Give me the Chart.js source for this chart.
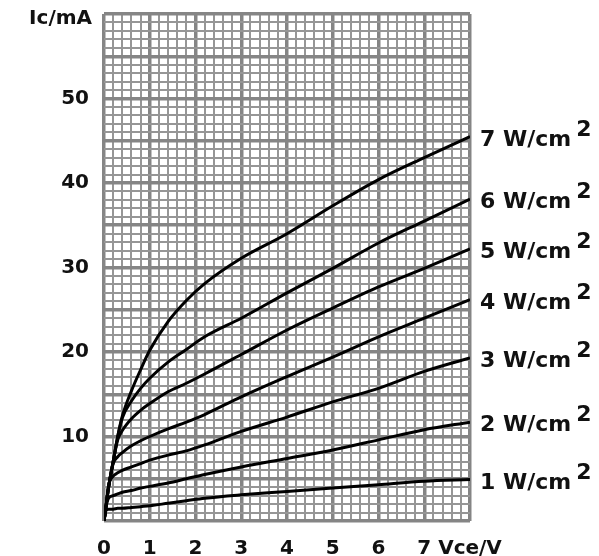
<!DOCTYPE html>
<html>
<head>
<meta charset="utf-8">
<script src="https://cdn.jsdelivr.net/npm/chart.js@4/dist/chart.umd.min.js"></script>
<style>
html,body{margin:0;padding:0;background:#fff;}
#wrap{width:599px;height:556px;}
</style>
</head>
<body>
<div id="wrap"><canvas id="c" width="599" height="556"></canvas></div>
<script>
// Vce values (V) shared by all curves
const vce = [0, 0.05, 0.1, 0.2, 0.3, 0.4, 0.6, 0.8, 1, 1.4, 1.8, 2.2, 3, 4, 5, 6, 7, 8];
// Ic values (mA) for each irradiance
const ic1 = [0, 1.3, 1.4, 1.4, 1.5, 1.5, 1.6, 1.7, 1.8, 2.1, 2.4, 2.7, 3.1, 3.5, 3.9, 4.3, 4.7, 4.9];
const ic2 = [0, 1.8, 2.7, 3.0, 3.2, 3.4, 3.6, 3.9, 4.1, 4.5, 5.0, 5.5, 6.4, 7.4, 8.4, 9.6, 10.8, 11.7];
const ic3 = [0, 2, 4.2, 5.3, 5.7, 6.0, 6.4, 6.8, 7.2, 7.8, 8.3, 9.0, 10.6, 12.3, 14.1, 15.7, 17.7, 19.3];
const ic4 = [0, 2, 4, 6.8, 7.6, 8.1, 8.9, 9.5, 10.0, 10.9, 11.7, 12.6, 14.7, 17.1, 19.4, 21.8, 24.0, 26.2];
const ic5 = [0, 2, 4, 7, 9.6, 10.7, 12.1, 13.1, 13.9, 15.3, 16.3, 17.4, 19.7, 22.6, 25.2, 27.7, 29.9, 32.2];
const ic6 = [0, 2, 4, 7, 10, 12.2, 14.2, 15.7, 16.9, 18.8, 20.3, 21.8, 24.0, 27.0, 29.9, 32.9, 35.5, 38.1];
const ic7 = [0, 2, 4, 7, 10, 12.4, 15.4, 17.9, 20.2, 23.6, 26.1, 28.1, 31.1, 34.0, 37.3, 40.4, 43.0, 45.5];
const seriesLabels = ['1 W/cm', '2 W/cm', '3 W/cm', '4 W/cm', '5 W/cm', '6 W/cm', '7 W/cm'];
const superscript = '2';
const xTickLabels = ['0', '1', '2', '3', '4', '5', '6', '7', 'Vce/V'];
const yTickLabels = {10: '10', 20: '20', 30: '30', 40: '40', 50: '50'};
const yAxisLabel = 'Ic/mA';

const allIc = [ic1, ic2, ic3, ic4, ic5, ic6, ic7];
const FONT = 'bold 20px "DejaVu Sans"';
const isInt = v => Math.abs(v - Math.round(v)) < 1e-6;
const isMul5 = v => isInt(v) && Math.round(v) % 5 === 0;

const datasets = allIc.map((arr, i) => ({
  label: seriesLabels[i],
  data: vce.map((x, k) => ({x: x, y: arr[k]})),
  borderColor: '#000',
  borderWidth: 3,
  pointRadius: 0,
  fill: false,
  cubicInterpolationMode: 'monotone'
}));

const labelPlugin = {
  id: 'curveLabels',
  afterDatasetsDraw(chart) {
    const ctx = chart.ctx;
    ctx.save();
    ctx.fillStyle = '#111';
    ctx.font = 'bold 22px "DejaVu Sans"';
    ctx.textBaseline = 'alphabetic';
    ctx.textAlign = 'left';
    chart.data.datasets.forEach((ds, i) => {
      const meta = chart.getDatasetMeta(i);
      const pt = meta.data[meta.data.length - 1];
      const x = pt.x + 10;
      const y = pt.y + 9;
      ctx.fillText(ds.label, x, y);
      const w = ctx.measureText(ds.label).width;
      ctx.fillText(superscript, x + w + 5, y - 10);
    });
    // y axis unit label
    ctx.font = FONT;
    ctx.textAlign = 'right';
    ctx.textBaseline = 'middle';
    ctx.fillText(yAxisLabel, 92, 19);
    ctx.restore();
  }
};

const bgPlugin = {
  id: 'bg',
  beforeDraw(chart) {
    const ctx = chart.ctx;
    ctx.save();
    ctx.fillStyle = '#fff';
    ctx.fillRect(0, 0, chart.width, chart.height);
    ctx.restore();
  }
};

new Chart(document.getElementById('c'), {
  type: 'line',
  data: {datasets: datasets},
  options: {
    responsive: false,
    animation: false,
    events: [],
    layout: {padding: {top: 14, right: 129, left: 0, bottom: 0}},
    plugins: {legend: {display: false}, tooltip: {enabled: false}},
    scales: {
      x: {
        type: 'linear',
        min: 0, max: 8,
        afterFit(s) { s.height = 35; s.paddingLeft = 0; s.paddingRight = 0; },
        border: {display: false},
        grid: {
          drawTicks: false,
          color: ctx => isInt(ctx.tick.value) ? '#858585' : '#969696',
          lineWidth: ctx => isInt(ctx.tick.value) ? 3.5 : 2
        },
        ticks: {
          stepSize: 0.2,
          autoSkip: false,
          maxTicksLimit: 100,
          maxRotation: 0,
          padding: 16,
          color: '#111',
          font: {family: 'DejaVu Sans', size: 20, weight: 'bold'},
          callback: v => isInt(v) ? xTickLabels[Math.round(v)] : ''
        }
      },
      y: {
        type: 'linear',
        min: 0, max: 60,
        afterFit(s) { s.width = 104; s.paddingTop = 0; s.paddingBottom = 0; },
        border: {display: false},
        grid: {
          drawTicks: false,
          color: ctx => isMul5(ctx.tick.value) ? '#858585' : '#969696',
          lineWidth: ctx => isMul5(ctx.tick.value) ? 3.5 : 2
        },
        ticks: {
          stepSize: 1,
          autoSkip: false,
          maxTicksLimit: 100,
          padding: 15,
          color: '#111',
          font: {family: 'DejaVu Sans', size: 20, weight: 'bold'},
          callback: v => (isInt(v) && yTickLabels[Math.round(v)]) ? yTickLabels[Math.round(v)] : ''
        }
      }
    }
  },
  plugins: [bgPlugin, labelPlugin]
});
</script>
</body>
</html>
